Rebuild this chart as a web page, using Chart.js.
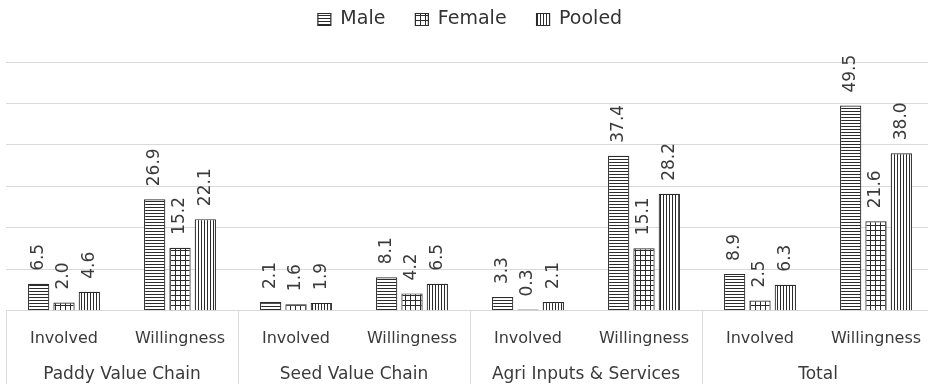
<!DOCTYPE html>
<html>
<head>
<meta charset="utf-8">
<script src="https://cdn.jsdelivr.net/npm/chart.js@4.4.1/dist/chart.umd.min.js"></script>
<style>
  html, body { margin: 0; padding: 0; overflow: hidden; background: #fff; }
  #wrap { width: 940px; height: 384px; }
</style>
</head>
<body>
<div id="wrap"><canvas id="c"></canvas></div>
<script>
// Value chain groups and the two measures shown for each
const groups = ['Paddy Value Chain', 'Seed Value Chain', 'Agri Inputs & Services', 'Total'];
const measures = ['Involved', 'Willingness'];
const categories = [
  'Involved', 'Willingness',
  'Involved', 'Willingness',
  'Involved', 'Willingness',
  'Involved', 'Willingness'
];

// Percentages per respondent group
const male   = [6.5, 26.9, 2.1, 8.1, 3.3, 37.4, 8.9, 49.5];
const female = [2.0, 15.2, 1.6, 4.2, 0.3, 15.1, 2.5, 21.6];
const pooled = [4.6, 22.1, 1.9, 6.5, 2.1, 28.2, 6.3, 38.0];

const INK = '#2b2b2b';
const TEXT = '#3a3a3a';
const FONT = "'DejaVu Sans', sans-serif";

// Hatch fills: horizontal lines, grid, vertical lines
function makePattern(kind) {
  const t = document.createElement('canvas');
  const s = kind === 'grid' ? 5 : 3;
  t.width = s; t.height = s;
  const g = t.getContext('2d');
  g.fillStyle = '#ffffff';
  g.fillRect(0, 0, s, s);
  g.fillStyle = INK;
  if (kind === 'h' || kind === 'grid') g.fillRect(0, 0, s, 1);
  if (kind === 'v' || kind === 'grid') g.fillRect(0, 0, 1, s);
  return document.getElementById('c').getContext('2d').createPattern(t, 'repeat');
}

// Rotated value labels above each bar
const valueLabels = {
  id: 'valueLabels',
  afterDatasetsDraw(chart) {
    const ctx = chart.ctx;
    ctx.save();
    ctx.font = '17px ' + FONT;
    ctx.fillStyle = TEXT;
    ctx.textAlign = 'left';
    ctx.textBaseline = 'middle';
    chart.data.datasets.forEach((ds, di) => {
      const meta = chart.getDatasetMeta(di);
      meta.data.forEach((bar, i) => {
        ctx.save();
        ctx.translate(bar.x, bar.y - 13);
        ctx.rotate(-Math.PI / 2);
        ctx.fillText(ds.data[i].toFixed(1), 0, 0);
        ctx.restore();
      });
    });
    ctx.restore();
  }
};

// Second category level: group names and dividers under the axis
const groupAxis = {
  id: 'groupAxis',
  afterDraw(chart) {
    const ctx = chart.ctx;
    const x = chart.scales.x;
    const area = chart.chartArea;
    const top = area.bottom;
    const bottom = chart.height;
    const per = measures.length;
    const half = (x.getPixelForTick(1) - x.getPixelForTick(0)) / 2;
    ctx.save();
    ctx.strokeStyle = '#d9d9d9';
    ctx.lineWidth = 1;
    for (let g = 0; g <= groups.length; g++) {
      const px = Math.round(x.getPixelForTick(Math.min(g * per, categories.length - 1)) +
        (g * per >= categories.length ? half : -half)) + 0.5;
      ctx.beginPath();
      ctx.moveTo(px, top);
      ctx.lineTo(px, bottom);
      ctx.stroke();
    }
    ctx.font = '17px ' + FONT;
    ctx.fillStyle = TEXT;
    ctx.textAlign = 'center';
    ctx.textBaseline = 'middle';
    groups.forEach((name, g) => {
      const cx = (x.getPixelForTick(g * per) + x.getPixelForTick(g * per + per - 1)) / 2;
      ctx.fillText(name, cx, top + 64);
    });
    ctx.restore();
  }
};

// Extra room between the legend and the plot
const legendGap = {
  id: 'legendGap',
  beforeInit(chart) {
    const legend = chart.legend;
    const fit = legend.fit;
    legend.fit = function () {
      fit.call(this);
      this.height = 82;
    };
  }
};

const barStyle = { borderColor: INK, borderWidth: 1.2, barPercentage: 0.84, categoryPercentage: 0.655 };

new Chart(document.getElementById('c'), {
  type: 'bar',
  data: {
    labels: categories,
    datasets: [
      Object.assign({ label: 'Male', data: male, backgroundColor: makePattern('h') }, barStyle),
      Object.assign({ label: 'Female', data: female, backgroundColor: makePattern('grid') }, barStyle),
      Object.assign({ label: 'Pooled', data: pooled, backgroundColor: makePattern('v') }, barStyle)
    ]
  },
  options: {
    responsive: true,
    maintainAspectRatio: false,
    animation: false,
    layout: { padding: { left: 6, right: 6, top: -20, bottom: 18 } },
    plugins: {
      tooltip: { enabled: false },
      legend: {
        position: 'top',
        labels: {
          font: { family: FONT, size: 19 },
          color: '#333333',
          boxWidth: 13,
          boxHeight: 12,
          padding: 30
        }
      }
    },
    scales: {
      x: {
        grid: { display: false, drawTicks: false },
        border: { display: false },
        ticks: { font: { family: FONT, size: 16 }, color: TEXT, padding: 18, maxRotation: 0, autoSkip: false }
      },
      y: {
        min: 0, max: 60,
        ticks: { display: false, stepSize: 10 },
        grid: { color: '#d9d9d9', drawTicks: false, lineWidth: 1 },
        border: { display: false }
      }
    }
  },
  plugins: [valueLabels, groupAxis, legendGap]
});
</script>
</body>
</html>
